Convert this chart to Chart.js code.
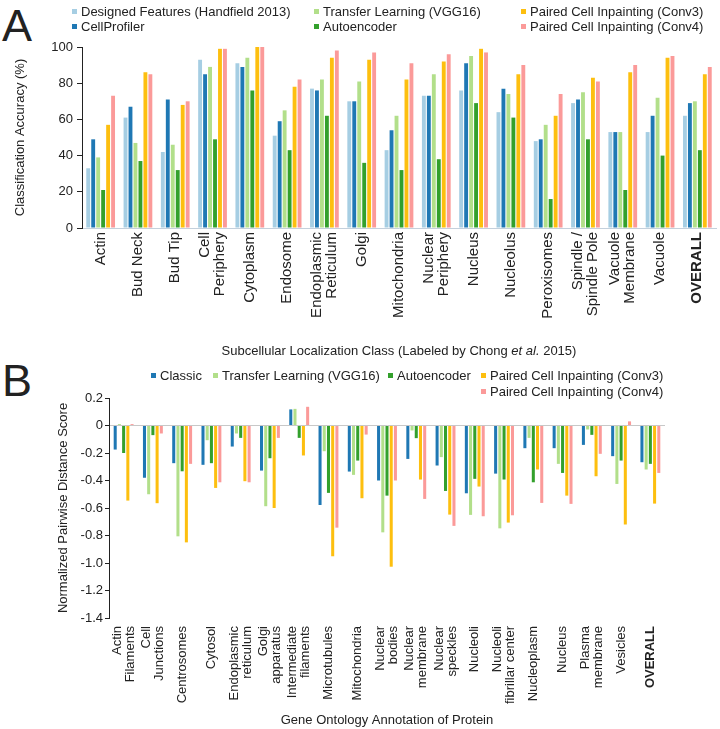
<!DOCTYPE html>
<html>
<head>
<meta charset="utf-8">
<script src="https://cdn.jsdelivr.net/npm/chart.js@4.4.1/dist/chart.umd.min.js"></script>
<style>
  body { margin: 0; background: #fff; }
  #wrap { position: relative; width: 720px; height: 729px; font-family: 'Liberation Sans', Arial, sans-serif; color: #222; }
  .panel { position: absolute; left: 2px; font-size: 45px; line-height: 1; }
  .lg { position: absolute; font-size: 13px; line-height: 15px; white-space: nowrap; }
  .lg i { display: inline-block; width: 5px; height: 5px; margin-right: 4px; vertical-align: 2px; }
  canvas { position: absolute; left: 0; }
</style>
</head>
<body>
<div id="wrap">
  <div class="panel" style="top:3px;">A</div>
  <div class="panel" style="top:358px;">B</div>
  <canvas id="chartA" width="720" height="360" style="top:0;"></canvas>
  <canvas id="chartB" width="720" height="369" style="top:360px;"></canvas>
</div>
<script>
// ---- panel A: classification accuracy (%) ----
const categoriesA = ['Actin', 'Bud Neck', 'Bud Tip', ['Cell', 'Periphery'], 'Cytoplasm', 'Endosome',
  ['Endoplasmic', 'Reticulum'], 'Golgi', 'Mitochondria', ['Nuclear', 'Periphery'], 'Nucleus', 'Nucleolus',
  'Peroxisomes', ['Spindle /', 'Spindle Pole'], ['Vacuole', 'Membrane'], 'Vacuole', 'OVERALL'];
const designedA = [33, 61, 42, 93, 91, 51, 77, 70, 43, 73, 76, 64, 48, 69, 53, 53, 62];
const cellProfilerA = [49, 67, 71, 85, 89, 59, 76, 70, 54, 73, 91, 77, 49, 71, 53, 62, 69];
const transferA = [39, 47, 46, 89, 94, 65, 82, 81, 62, 85, 95, 74, 57, 75, 53, 72, 70];
const autoencoderA = [21, 37, 32, 49, 76, 43, 62, 36, 32, 38, 69, 61, 16, 49, 21, 40, 43];
const conv3A = [57, 86, 68, 99, 100, 78, 94, 93, 82, 92, 99, 85, 62, 83, 86, 94, 85];
const conv4A = [73, 85, 70, 99, 100, 82, 98, 97, 91, 96, 97, 90, 74, 81, 90, 95, 89];

// ---- panel B: normalized pairwise distance score ----
const categoriesB = [['Actin', 'Filaments'], ['Cell', 'Junctions'], 'Centrosomes', 'Cytosol',
  ['Endoplasmic', 'reticulum'], ['Golgi', 'apparatus'], ['Intermediate', 'filaments'], 'Microtubules',
  'Mitochondria', ['Nuclear', 'bodies'], ['Nuclear', 'membrane'], ['Nuclear', 'speckles'], 'Nucleoli',
  ['Nucleoli', 'fibrillar center'], 'Nucleoplasm', 'Nucleus', ['Plasma', 'membrane'], 'Vesicles', 'OVERALL'];
const classicB = [-0.175, -0.38, -0.274, -0.286, -0.153, -0.328, 0.117, -0.578, -0.335, -0.40, -0.243, -0.291, -0.493, -0.35, -0.165, -0.165, -0.141, -0.223, -0.267];
const transferB = [0.01, -0.50, -0.806, -0.107, -0.058, -0.587, 0.121, -0.187, -0.359, -0.777, -0.036, -0.23, -0.65, -0.748, -0.09, -0.279, -0.029, -0.425, -0.32];
const autoencoderB = [-0.20, -0.07, -0.333, -0.274, -0.09, -0.238, -0.09, -0.49, -0.255, -0.51, -0.092, -0.476, -0.388, -0.393, -0.413, -0.345, -0.068, -0.255, -0.279];
const conv3B = [-0.546, -0.565, -0.85, -0.454, -0.405, -0.6, -0.218, -0.951, -0.529, -1.027, -0.393, -0.648, -0.444, -0.706, -0.32, -0.51, -0.369, -0.72, -0.568];
const conv4B = [0.01, -0.058, -0.279, -0.413, -0.413, -0.09, 0.136, -0.743, -0.066, -0.40, -0.534, -0.73, -0.66, -0.653, -0.563, -0.57, -0.206, 0.03, -0.345];

const C = {
  lightBlue: '#a6cee3', blue: '#1f78b4', lightGreen: '#b2df8a',
  green: '#33a02c', yellow: '#fdbf0f', pink: '#fb9a99'
};
const FONT = "'Liberation Sans', Arial, sans-serif";

Chart.defaults.font.family = FONT;
Chart.defaults.font.size = 13;
Chart.defaults.color = '#222';

const seriesA = [
  { label: 'Designed Features (Handfield 2013)', data: designedA, backgroundColor: C.lightBlue },
  { label: 'CellProfiler', data: cellProfilerA, backgroundColor: C.blue },
  { label: 'Transfer Learning (VGG16)', data: transferA, backgroundColor: C.lightGreen },
  { label: 'Autoencoder', data: autoencoderA, backgroundColor: C.green },
  { label: 'Paired Cell Inpainting (Conv3)', data: conv3A, backgroundColor: C.yellow },
  { label: 'Paired Cell Inpainting (Conv4)', data: conv4A, backgroundColor: C.pink }
];
const seriesB = [
  { label: 'Classic', data: classicB, backgroundColor: C.blue },
  { label: 'Transfer Learning (VGG16)', data: transferB, backgroundColor: C.lightGreen },
  { label: 'Autoencoder', data: autoencoderB, backgroundColor: C.green },
  { label: 'Paired Cell Inpainting (Conv3)', data: conv3B, backgroundColor: C.yellow },
  { label: 'Paired Cell Inpainting (Conv4)', data: conv4B, backgroundColor: C.pink }
];

// legend spots [x, y] for each series square
const legendPosA = [[72, 4], [72, 19], [314, 4], [314, 19], [521, 4], [521, 19]];
const legendPosB = [[151, 368], [213, 368], [388, 368], [481, 368], [481, 383.5]];

function addLegend(series, pos) {
  const wrap = document.getElementById('wrap');
  series.forEach((s, i) => {
    const d = document.createElement('div');
    d.className = 'lg';
    d.style.left = pos[i][0] + 'px';
    d.style.top = pos[i][1] + 'px';
    d.innerHTML = '<i style="background:' + s.backgroundColor + '"></i>' + s.label;
    wrap.appendChild(d);
  });
}
addLegend(seriesA, legendPosA);
addLegend(seriesB, legendPosB);

// vertical category labels, multi-line blocks centred on the tick
const vLabels = {
  id: 'vLabels',
  afterDraw(chart, args, opts) {
    const scale = chart.scales.x;
    const ctx = chart.ctx;
    const labels = chart.data.labels;
    labels.forEach((lab, i) => {
      const lines = Array.isArray(lab) ? lab : [lab];
      ctx.save();
      ctx.translate(scale.getPixelForTick(i), chart.chartArea.bottom + opts.pad);
      ctx.rotate(-Math.PI / 2);
      ctx.font = (i === labels.length - 1 ? 'bold ' : '') + opts.size + 'px ' + FONT;
      ctx.fillStyle = '#222';
      ctx.textAlign = 'right';
      ctx.textBaseline = 'middle';
      lines.forEach((ln, k) => ctx.fillText(ln, 0, (k - (lines.length - 1) / 2) * opts.lh));
      ctx.restore();
    });
  }
};

// x axis title with italic "et al."
const titleA = {
  id: 'titleA',
  afterDraw(chart) {
    const ctx = chart.ctx;
    const parts = [
      ['Subcellular Localization Class (Labeled by Chong ', ''],
      ['et al.', 'italic '],
      [' 2015)', '']
    ];
    ctx.save();
    let total = 0;
    parts.forEach(p => { ctx.font = p[1] + '13px ' + FONT; total += ctx.measureText(p[0]).width; });
    let x = (chart.chartArea.left + chart.chartArea.right) / 2 - total / 2;
    ctx.fillStyle = '#222';
    ctx.textBaseline = 'middle';
    parts.forEach(p => {
      ctx.font = p[1] + '13px ' + FONT;
      ctx.fillText(p[0], x, 351);
      x += ctx.measureText(p[0]).width;
    });
    ctx.restore();
  }
};

new Chart(document.getElementById('chartA'), {
  type: 'bar',
  data: {
    labels: categoriesA,
    datasets: seriesA.map(s => Object.assign({}, s, { categoryPercentage: 0.8, barPercentage: 0.78 }))
  },
  options: {
    responsive: false,
    animation: false,
    layout: { padding: { top: 47, right: 4, left: 0, bottom: 0 } },
    plugins: { legend: { display: false }, tooltip: { enabled: false }, vLabels: { pad: 4, size: 15, lh: 15 } },
    scales: {
      x: {
        grid: { display: false },
        border: { display: true, color: '#c4d0dc' },
        ticks: { display: false },
        afterFit: s => { s.height = 132; }
      },
      y: {
        min: 0, max: 100,
        ticks: { stepSize: 10, padding: 4 },
        grid: { drawOnChartArea: false, tickLength: 5, tickColor: '#222' },
        border: { color: '#222' },
        title: { display: true, text: 'Classification Accuracy (%)', padding: { top: 13 } },
        afterFit: s => { s.width = 82; }
      }
    }
  },
  plugins: [vLabels, titleA]
});

new Chart(document.getElementById('chartB'), {
  type: 'bar',
  data: {
    labels: categoriesB,
    datasets: seriesB.map(s => Object.assign({}, s, { categoryPercentage: 0.72, barPercentage: 0.72 }))
  },
  options: {
    responsive: false,
    animation: false,
    layout: { padding: { top: 38, right: 55, left: 0, bottom: 0 } },
    plugins: { legend: { display: false }, tooltip: { enabled: false }, vLabels: { pad: 8, size: 13, lh: 13 } },
    scales: {
      x: {
        grid: { display: false },
        border: { display: false },
        ticks: { display: false },
        title: { display: true, text: 'Gene Ontology Annotation of Protein', padding: { bottom: 1, top: 0 } },
        afterFit: s => { s.height = 111; }
      },
      y: {
        min: -1.4, max: 0.2,
        ticks: {
          stepSize: 0.2, padding: 2,
          callback: v => Math.abs(v) < 1e-9 ? '0' : v.toFixed(1)
        },
        grid: {
          drawOnChartArea: true, tickLength: 4, tickColor: '#222',
          color: c => (c.tick && Math.abs(c.tick.value) < 1e-9) ? '#c8c8c8' : 'rgba(0,0,0,0)'
        },
        border: { color: '#222' },
        title: { display: true, text: 'Normalized Pairwise Distance Score', padding: { top: 56 } },
        afterFit: s => { s.width = 109; }
      }
    }
  },
  plugins: [vLabels]
});
</script>
</body>
</html>
